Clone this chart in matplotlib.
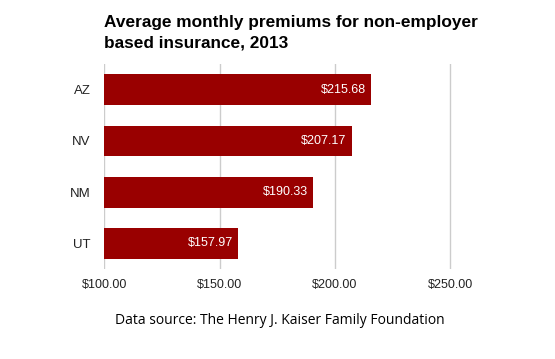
import matplotlib
matplotlib.use("Agg")
import matplotlib.pyplot as plt

states = ["AZ", "NV", "NM", "UT"]
premiums = [215.68, 207.17, 190.33, 157.97]
xticks = [100, 150, 200, 250]
xtick_labels = ["$100.00", "$150.00", "$200.00", "$250.00"]
title_lines = ["Average monthly premiums for non-employer", "based insurance, 2013"]
source = "Data source: The Henry J. Kaiser Family Foundation"

fig = plt.figure(figsize=(5.55, 3.59), dpi=100)
ax = fig.add_axes([104.3/555, 90/359, 346/555 * 160/150, 205/359])

ypos = list(range(len(states)))
ax.barh(ypos, [p - 100 for p in premiums], left=100, height=0.6, color="#990000", zorder=2)
for y, p in zip(ypos, premiums):
    ax.text(p - 2.2, y, f"${p:.2f}", color="white", ha="right", va="center",
            fontsize=9, family="Liberation Sans", zorder=3)

ax.set_xlim(100, 260)
ax.set_ylim(3.5, -0.5)
ax.set_yticks(ypos)
ax.set_yticklabels(states, family="Liberation Sans", fontsize=9.5, color="#222222")
ax.set_xticks(xticks)
ax.set_xticklabels(xtick_labels, family="Liberation Sans", fontsize=9, color="#222222")
ax.tick_params(length=0)
ax.tick_params(axis="y", pad=10)
ax.tick_params(axis="x", pad=7.5)
ax.grid(axis="x", color="#cccccc", linewidth=1, zorder=0)
ax.set_axisbelow(True)
for s in ax.spines.values():
    s.set_visible(False)

for i, line in enumerate(title_lines):
    fig.text(104.3/555, 1 - (27.5 + 19.5 * i)/359, line, ha="left", va="baseline",
             fontsize=12.4, fontweight="bold", family="Liberation Sans", color="#000000")
fig.text(280/555, 1 - 320/359, source, ha="center", va="center", fontsize=10,
         family="Open Sans", color="#000000")

fig.savefig("out.png", dpi=100)
